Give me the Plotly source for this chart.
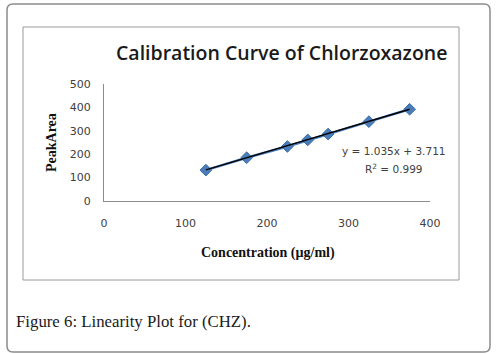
import plotly.graph_objects as go
import numpy as np

# Data
concentration = [125, 175, 225, 250, 275, 325, 375]
peak_area = [132, 185, 233, 261, 286, 339, 392]
slope = 1.035
intercept = 3.711
r_squared = 0.999
x_ticks = [0, 100, 200, 300, 400]
y_ticks = [0, 100, 200, 300, 400, 500]

W, H = 496, 354
L, R, T, B = 104, 430, 84, 201  # plot area in pixels


def px(xp):
    return (xp - L) / (R - L)


def py(yp):
    return (B - yp) / (B - T)


fig = go.Figure()

fig.add_trace(go.Scatter(
    x=concentration, y=peak_area, mode="lines+markers",
    line=dict(color="#4A7EBB", width=2.5),
    marker=dict(symbol="diamond", size=9, color="#4A7EBB",
                line=dict(color="#3C6AA3", width=1)),
    showlegend=False, hoverinfo="x+y"))

xs = np.array([min(concentration), max(concentration)], dtype=float)
fig.add_trace(go.Scatter(
    x=xs, y=slope * xs + intercept, mode="lines",
    line=dict(color="#000000", width=1.5), showlegend=False,
    hoverinfo="skip"))


def rounded_rect(x0, y0, x1, y1, r):
    pts = [
        f"M {px(x0 + r)},{py(y0)}",
        f"L {px(x1 - r)},{py(y0)}",
        f"Q {px(x1)},{py(y0)} {px(x1)},{py(y0 + r)}",
        f"L {px(x1)},{py(y1 - r)}",
        f"Q {px(x1)},{py(y1)} {px(x1 - r)},{py(y1)}",
        f"L {px(x0 + r)},{py(y1)}",
        f"Q {px(x0)},{py(y1)} {px(x0)},{py(y1 - r)}",
        f"L {px(x0)},{py(y0 + r)}",
        f"Q {px(x0)},{py(y0)} {px(x0 + r)},{py(y0)}",
        "Z",
    ]
    return " ".join(pts)


shapes = [
    dict(type="path", xref="paper", yref="paper",
         path=rounded_rect(7, 4, 490, 352, 6),
         line=dict(color="#8C8C8C", width=1.5), layer="below"),
    dict(type="rect", xref="paper", yref="paper",
         x0=px(23), x1=px(459), y0=py(27), y1=py(280),
         line=dict(color="#9A9A9A", width=1), layer="below"),
]

annotations = [
    dict(text="Calibration Curve of Chlorzoxazone", xref="paper", yref="paper",
         x=px(281), y=py(52), showarrow=False, xanchor="center", yanchor="middle",
         font=dict(family="Open Sans", size=19.5, weight=600, color="#1A1A1A")),
    dict(text="<b>PeakArea</b>", xref="paper", yref="paper",
         x=px(51), y=py(143), showarrow=False, textangle=-90,
         xanchor="center", yanchor="middle",
         font=dict(family="Liberation Serif", size=14, color="#111111")),
    dict(text="<b>Concentration (µg/ml)</b>", xref="paper", yref="paper",
         x=px(268), y=py(253), showarrow=False, xanchor="center", yanchor="middle",
         font=dict(family="Liberation Serif", size=14, color="#111111")),
    dict(text=f"y = {slope:.3f}x + {intercept:.3f}", xref="paper", yref="paper",
         x=px(394), y=py(151), showarrow=False, xanchor="center", yanchor="middle",
         font=dict(family="DejaVu Sans", size=10.5, color="#404040")),
    dict(text=f"R<sup>2</sup> = {r_squared:.3f}", xref="paper", yref="paper",
         x=px(394), y=py(168), showarrow=False, xanchor="center", yanchor="middle",
         font=dict(family="DejaVu Sans", size=10.5, color="#404040")),
    dict(text="Figure 6: Linearity Plot for (CHZ).", xref="paper", yref="paper",
         x=px(14), y=py(321), showarrow=False, xanchor="left", yanchor="middle",
         font=dict(family="Liberation Serif", size=16.8, color="#1A1A1A")),
]

fig.update_layout(
    width=W, height=H,
    margin=dict(l=L, r=W - R, t=T, b=H - B, pad=0),
    paper_bgcolor="white", plot_bgcolor="white",
    shapes=shapes, annotations=annotations,
    xaxis=dict(range=[0, 400], tickvals=x_ticks, showgrid=False, zeroline=False,
               showline=True, linecolor="#8C8C8C", linewidth=1,
               ticks="outside", ticklen=12, tickcolor="rgba(0,0,0,0)",
               tickfont=dict(family="DejaVu Sans", size=11, color="#404040")),
    yaxis=dict(range=[0, 500], tickvals=y_ticks, showgrid=False, zeroline=False,
               showline=True, linecolor="#8C8C8C", linewidth=1,
               ticks="outside", ticklen=10, tickcolor="rgba(0,0,0,0)",
               tickfont=dict(family="DejaVu Sans", size=11, color="#404040")),
)

fig.write_html("out.html",
               config={"displayModeBar": False},
               post_script="document.body.style.margin='0';document.body.style.overflow='hidden';")
